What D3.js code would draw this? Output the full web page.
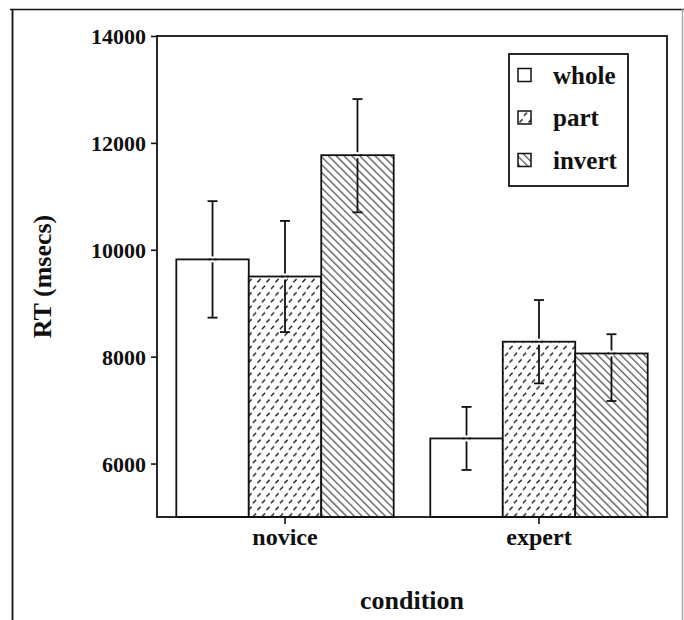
<!DOCTYPE html>
<html>
  <head>
    <script src="https://d3js.org/d3.v7.min.js"></script>
    <style>
      body { margin: 0; background: #fff; }
      text { font-family: "Liberation Serif", "Times New Roman", serif; font-weight: bold; fill: #111; }
    </style>
  </head>
  <body>
    <svg id="rtvis" width="684" height="620"></svg>

  <script>
  // Data
  var conditions = ["novice", "expert"];
  var stimuli = ["whole", "part", "invert"];
  var rtMeans = {
    whole:  [9820, 6470],
    part:   [9500, 8280],
    invert: [11770, 8060]
  };
  // error bar ends
  var rtUpper = {
    whole:  [10910, 7060],
    part:   [10540, 9060],
    invert: [12820, 8420]
  };
  var rtLower = {
    whole:  [8730, 5880],
    part:   [8460, 7500],
    invert: [10700, 7170]
  };
  var yTicks = [6000, 8000, 10000, 12000, 14000];

  var svg = d3.select("#rtvis");

  // plot box
  var margin = {top: 36, right: 17, bottom: 103, left: 157},
      width = 684 - margin.left - margin.right,
      height = 620 - margin.top - margin.bottom;

  // outer frame of the scanned figure
  svg.append("line").attr("x1", 10).attr("x2", 684).attr("y1", 9.5).attr("y2", 9.5)
    .attr("stroke", "#111").attr("stroke-width", 1.6);
  svg.append("line").attr("x1", 12.5).attr("x2", 12.5).attr("y1", 9).attr("y2", 620)
    .attr("stroke", "#111").attr("stroke-width", 1.8);
  svg.append("line").attr("x1", 682.5).attr("x2", 682.5).attr("y1", 9).attr("y2", 620)
    .attr("stroke", "#aaa").attr("stroke-width", 1.5);

  // patterns
  var defs = svg.append("defs");

  var dash = defs.append("pattern")
    .attr("id", "dashes")
    .attr("patternUnits", "userSpaceOnUse")
    .attr("width", 9).attr("height", 13.4);
  dash.append("rect").attr("width", 9).attr("height", 13.4).attr("fill", "#fff");
  dash.append("path")
    .attr("d", "M1.4,5 L4.6,1.8 M5.9,11.7 L9.1,8.5 M-3.1,11.7 L0.1,8.5")
    .attr("stroke", "#222").attr("stroke-width", 1.4);

  var hatch = defs.append("pattern")
    .attr("id", "hatch")
    .attr("patternUnits", "userSpaceOnUse")
    .attr("width", 5.5).attr("height", 5.5)
    .attr("patternTransform", "rotate(45)");
  hatch.append("rect").attr("width", 5.5).attr("height", 5.5).attr("fill", "#fff");
  hatch.append("line").attr("x1", 0).attr("x2", 5.5).attr("y1", 2).attr("y2", 2)
    .attr("stroke", "#222").attr("stroke-width", 1);

  var fills = {whole: "#fff", part: "url(#dashes)", invert: "url(#hatch)"};

  var g = svg.append("g")
    .attr("transform", "translate(" + margin.left + "," + margin.top + ")");

  // scales
  var x0 = d3.scaleBand()
    .domain(conditions)
    .range([0, width])
    .paddingInner(0.144)
    .paddingOuter(0.076);
  var x1 = d3.scaleBand()
    .domain(stimuli)
    .range([0, x0.bandwidth()]);
  var y = d3.scaleLinear()
    .domain([5000, 14000])
    .range([height, 0]);

  // flatten for drawing
  var rows = [];
  conditions.forEach(function(c, i) {
    stimuli.forEach(function(s) {
      rows.push({cond: c, stim: s, mean: rtMeans[s][i], hi: rtUpper[s][i], lo: rtLower[s][i]});
    });
  });

  // bars
  g.selectAll(".bar")
    .data(rows)
    .enter().append("rect")
      .attr("class", "bar")
      .attr("x", function(d) { return x0(d.cond) + x1(d.stim); })
      .attr("y", function(d) { return y(d.mean); })
      .attr("width", x1.bandwidth())
      .attr("height", function(d) { return height - y(d.mean); })
      .attr("fill", function(d) { return fills[d.stim]; })
      .attr("stroke", "#111")
      .attr("stroke-width", 1.8);

  // error bars
  var cx = function(d) { return x0(d.cond) + x1(d.stim) + x1.bandwidth() / 2; };
  var err = g.selectAll(".err")
    .data(rows)
    .enter().append("g")
      .attr("class", "err");
  err.append("line")
    .attr("x1", cx).attr("x2", cx)
    .attr("y1", function(d) { return y(d.hi); })
    .attr("y2", function(d) { return y(d.lo); })
    .attr("stroke", "#111").attr("stroke-width", 1.8);
  // little white break where the bar top crosses the error line
  err.append("rect")
    .attr("x", function(d) { return cx(d) - 2; })
    .attr("y", function(d) { return y(d.mean) - 3; })
    .attr("width", 4).attr("height", 6)
    .attr("fill", "#fff");
  err.append("line")
    .attr("x1", function(d) { return cx(d) - 4; })
    .attr("x2", function(d) { return cx(d) + 4; })
    .attr("y1", function(d) { return y(d.mean); })
    .attr("y2", function(d) { return y(d.mean); })
    .attr("stroke", "#111").attr("stroke-width", 1.8);
  ["hi", "lo"].forEach(function(k) {
    err.append("line")
      .attr("x1", function(d) { return cx(d) - 5; })
      .attr("x2", function(d) { return cx(d) + 5; })
      .attr("y1", function(d) { return y(d[k]); })
      .attr("y2", function(d) { return y(d[k]); })
      .attr("stroke", "#111").attr("stroke-width", 1.8);
  });

  // frame of the plot
  g.append("rect")
    .attr("width", width).attr("height", height)
    .attr("fill", "none").attr("stroke", "#111").attr("stroke-width", 1.8);

  // y axis
  var yAxis = g.append("g")
    .call(d3.axisLeft(y).tickValues(yTicks).tickSize(6).tickPadding(5).tickFormat(d3.format("d")));
  yAxis.select(".domain").remove();
  yAxis.selectAll("line").attr("stroke", "#111").attr("stroke-width", 1.6);
  yAxis.selectAll("text").style("font-size", "22px").attr("dy", "0.34em");

  // x axis
  var xAxis = g.append("g")
    .attr("transform", "translate(0," + height + ")")
    .call(d3.axisBottom(x0).tickSize(7).tickPadding(4));
  xAxis.select(".domain").remove();
  xAxis.selectAll("line").attr("stroke", "#111").attr("stroke-width", 1.6);
  xAxis.selectAll("text").style("font-size", "24px");

  // axis titles
  svg.append("text")
    .attr("transform", "translate(51," + (margin.top + height / 2) + ") rotate(-90)")
    .attr("text-anchor", "middle")
    .style("font-size", "26px")
    .text("RT (msecs)");
  svg.append("text")
    .attr("x", margin.left + width / 2)
    .attr("y", 609)
    .attr("text-anchor", "middle")
    .style("font-size", "26px")
    .text("condition");

  // legend
  var legend = svg.append("g").attr("transform", "translate(509,54)");
  legend.append("rect")
    .attr("width", 119).attr("height", 132)
    .attr("fill", "#fff").attr("stroke", "#111").attr("stroke-width", 1.8);
  var item = legend.selectAll(".item")
    .data(stimuli)
    .enter().append("g")
      .attr("class", "item")
      .attr("transform", function(d, i) { return "translate(0," + (21 + i * 42.5) + ")"; });
  item.append("rect")
    .attr("x", 9).attr("y", -6.5)
    .attr("width", 13).attr("height", 13)
    .attr("fill", function(d) { return fills[d]; })
    .attr("stroke", "#111").attr("stroke-width", 1.5);
  item.append("text")
    .attr("x", 44).attr("dy", "0.35em")
    .style("font-size", "25px")
    .text(function(d) { return d; });
  </script>
  </body>
</html>
